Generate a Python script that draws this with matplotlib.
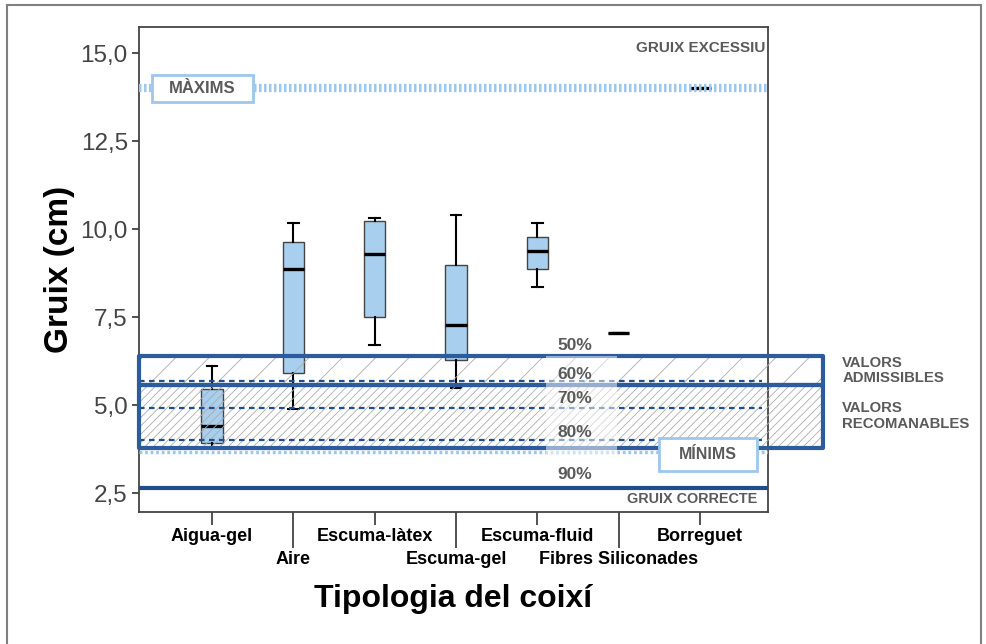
import matplotlib.pyplot as plt
from matplotlib.patches import Rectangle
import matplotlib.lines as mlines

plt.rcParams['font.family'] = ['Liberation Sans', 'DejaVu Sans']
plt.rcParams['hatch.linewidth'] = 0.6

# categories (shown in two staggered rows)
categories = ['Aigua-gel', 'Aire', 'Escuma-làtex', 'Escuma-gel',
              'Escuma-fluid', 'Fibres Siliconades', 'Borreguet']

# box statistics (cm)
whis_lo = [3.82, 4.89, 6.70, 5.49, 8.36, 7.05, 14.0]
q1 = [3.91, 5.90, 7.50, 6.28, 8.86, 7.05, 14.0]
medians = [4.40, 8.87, 9.28, 7.28, 9.37, 7.05, 14.0]
q3 = [5.45, 9.62, 10.24, 8.97, 9.78, 7.05, 14.0]
whis_hi = [6.12, 10.18, 10.30, 10.39, 10.18, 7.05, 14.0]

# reference levels
maxims = 14.0
minims = 3.67
gruix_correcte = 2.65
admissibles = (5.58, 6.39)
recomanables = (3.78, 5.58)
pct_lines = [5.68, 4.91, 4.01]
pct_labels = ['50%', '60%', '70%', '80%', '90%']
pct_label_y = [6.68, 5.88, 5.20, 4.23, 3.04]

yticks = [2.5, 5.0, 7.5, 10.0, 12.5, 15.0]

dark_blue = '#2d5c9c'
line_blue = '#1f4e8c'
light_blue = '#9dc8ec'
gray_txt = '#5a5a5a'

fig = plt.figure(figsize=(9.87, 6.44), dpi=100)
ax = fig.add_axes([0.1408, 0.2054, 0.6373, 0.7527])

# outer frame
for xs, ys in [([0.007, 0.007], [0, 0.992]), ([0.007, 0.994], [0.992, 0.992]),
               ([0.994, 0.994], [0.992, 0])]:
    fig.add_artist(mlines.Line2D(xs, ys, color='#808080', lw=1.5))

stats = []
for i, c in enumerate(categories):
    stats.append(dict(label=c, whislo=whis_lo[i], q1=q1[i], med=medians[i],
                      q3=q3[i], whishi=whis_hi[i], fliers=[]))
pos = list(range(len(categories)))
ax.bxp(stats, positions=pos, widths=0.26, capwidths=0.13, patch_artist=True,
       showfliers=False,
       boxprops=dict(facecolor='#a8cfee', edgecolor='#444444', lw=1),
       medianprops=dict(color='black', lw=2.4),
       whiskerprops=dict(color='black', lw=1.5),
       capprops=dict(color='black', lw=1.5), zorder=2)

ax.set_xlim(-0.898, 6.836)
ax.set_ylim(1.97, 15.74)

# hatched zones + borders
x0, x1 = -0.898, 7.51
for (lo, hi), h in [(admissibles, '/'), (recomanables, '////')]:
    ax.add_patch(Rectangle((x0, lo), x1 - x0, hi - lo, fill=False, hatch=h,
                           edgecolor='#ababab', lw=0, zorder=3, clip_on=False))
for lo, hi in [admissibles, recomanables]:
    ax.add_patch(Rectangle((x0, lo), x1 - x0, hi - lo, fill=False,
                           edgecolor=dark_blue, lw=3, joinstyle='round',
                           zorder=5, clip_on=False))

# reference lines
ax.axhline(maxims, color=light_blue, lw=6, ls=(0, (0.3, 0.3)), zorder=3)
ax.axhline(minims, color=light_blue, lw=2.5, ls=(0, (0.8, 0.8)), zorder=3)
ax.axhline(gruix_correcte, color=line_blue, lw=3, zorder=4)
for y in pct_lines:
    ax.axhline(y, xmax=0.99, color=line_blue, lw=1.6, ls=(0, (2.5, 2)), zorder=4)

# white patch behind percentage labels
ax.add_patch(Rectangle((4.11, 3.6), 0.87, 2.8, facecolor='white', alpha=0.5,
                       lw=0, zorder=6))
for t, y in zip(pct_labels, pct_label_y):
    ax.text(4.46, y, t, ha='center', va='center', fontsize=12.5,
            fontweight='bold', color=gray_txt, zorder=7)

# labelled boxes
ax.add_patch(Rectangle((-0.738, 13.61), 1.242, 0.765, facecolor='white',
                       edgecolor=light_blue, lw=2, zorder=6))
ax.text(-0.117, 13.99, 'MÀXIMS', ha='center', va='center', fontsize=12,
        fontweight='bold', color=gray_txt, zorder=7)
ax.add_patch(Rectangle((5.496, 3.125), 1.205, 0.935, facecolor='white',
                       edgecolor=light_blue, lw=2, zorder=6))
ax.text(6.1, 3.59, 'MÍNIMS', ha='center', va='center', fontsize=11.5,
        fontweight='bold', color=gray_txt, zorder=7)

ax.text(6.80, 15.14, 'GRUIX EXCESSIU', ha='right', va='center', fontsize=11,
        fontweight='bold', color=gray_txt)
ax.text(6.71, 2.33, 'GRUIX CORRECTE', ha='right', va='center', fontsize=10.4,
        fontweight='bold', color=gray_txt)
ax.text(7.75, 5.98, 'VALORS\nADMISSIBLES', ha='left', va='center', fontsize=10.7,
        fontweight='bold', color=gray_txt, linespacing=1.15, clip_on=False)
ax.text(7.75, 4.69, 'VALORS\nRECOMANABLES', ha='left', va='center', fontsize=10.7,
        fontweight='bold', color=gray_txt, linespacing=1.15, clip_on=False)

# axes styling
narrow = ['Liberation Sans Narrow', 'Liberation Sans']
ax.set_xticks(pos[0::2], labels=categories[0::2], fontfamily=narrow,
              fontweight='bold', fontsize=13)
ax.set_xticks(pos[1::2], labels=categories[1::2], minor=True, fontfamily=narrow,
              fontweight='bold', fontsize=13)
ax.tick_params(axis='x', which='major', length=9.5, width=1.2, pad=2.5,
               color='#333333')
ax.tick_params(axis='x', which='minor', length=26, width=1.2, pad=2,
               color='#333333')
ax.set_yticks(yticks, labels=[f'{v:.1f}'.replace('.', ',') for v in yticks])
ax.tick_params(axis='y', length=5, width=1.2, pad=3, labelsize=17.5,
               labelcolor='#444444', color='#333333')
for s in ax.spines.values():
    s.set_color('#444444')
    s.set_linewidth(1.3)

ax.set_ylabel('Gruix (cm)', fontsize=24, fontweight='bold', labelpad=4)
ax.set_xlabel('Tipologia del coixí', fontsize=23, fontweight='bold', labelpad=12)

fig.savefig('out.png', dpi=100)
